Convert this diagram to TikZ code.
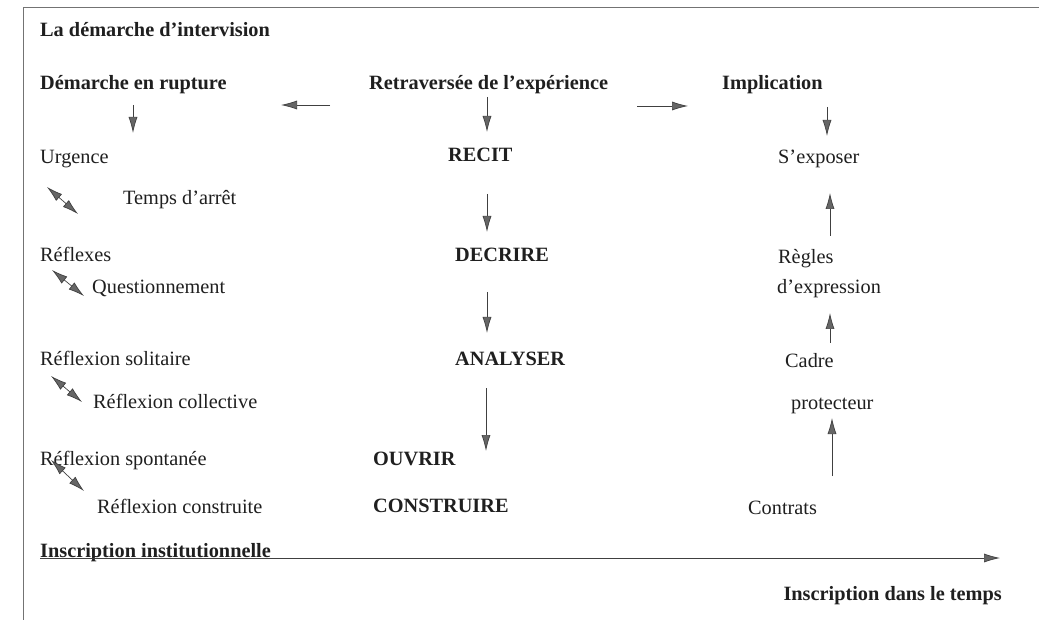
\documentclass[tikz,border=0pt]{standalone}
\usepackage{fontspec}
\setmainfont{Liberation Serif}
\usetikzlibrary{arrows.meta}
\tikzset{
  tipA/.tip={Latex[length=16pt,width=9pt,fill=black!60,color=black!75]},
}
\begin{document}
\begin{tikzpicture}[x=1pt,y=-1pt,
  txt/.style={anchor=base west,inner sep=0pt,font=\fontsize{20.3}{22}\selectfont,text=black!88},
  btxt/.style={txt,font=\fontsize{20.3}{22}\selectfont\bfseries},
  arr/.style={draw=black!75,line width=0.7pt,-tipA},
  darr/.style={draw=black!75,line width=0.7pt,tipA-tipA},
  frame/.style={draw=black!55,line width=0.8pt}]
\useasboundingbox (0,0) rectangle (1039,620);
\fill[white] (0,0) rectangle (1039,620);
\draw[frame] (1039,7) -- (23,7) -- (23,620);

% titles
\node[btxt] (title) at (40,37) {La démarche d’intervision};
\node[btxt] (rupt) at (40,90) {Démarche en rupture};
\node[btxt] (retr) at (369,90) {Retraversée de l’expérience};
\node[btxt] (impl) at (722,90) {Implication};

% left column
\node[txt] (urg) at (40,164) {Urgence};
\node[txt] (temps) at (123,205) {Temps d’arrêt};
\node[txt] (refl) at (40,262) {Réflexes};
\node[txt] (quest) at (92,294) {Questionnement};
\node[txt] (sol) at (40,366) {Réflexion solitaire};
\node[txt] (coll) at (93,408) {Réflexion collective};
\node[txt] (spont) at (40,465) {Réflexion spontanée};
\node[txt] (constr) at (97,513) {Réflexion construite};

% centre column
\node[btxt] (recit) at (448,162) {RECIT};
\node[btxt] (decr) at (455,262) {DECRIRE};
\node[btxt] (anal) at (455,365) {ANALYSER};
\node[btxt] (ouvr) at (373,465) {OUVRIR};
\node[btxt] (const) at (373,512) {CONSTRUIRE};

% right column
\node[txt] (expo) at (778,164) {S’exposer};
\node[txt] (regl) at (778,264) {Règles};
\node[txt] (dexp) at (777,294) {d’expression};
\node[txt] (cadre) at (785,367) {Cadre};
\node[txt] (prot) at (791,409) {protecteur};
\node[txt] (contr) at (748,514) {Contrats};

% bottom
\node[btxt] (instit) at (40,557) {Inscription institutionnelle};
\node[btxt,anchor=base east] (tps) at (1002,600) {Inscription dans le temps};
\coordinate (ts) at (40,558);
\coordinate (tl) at (1000,558);
\draw[arr] (ts) -- (tl);

% coordinates for connectors
\coordinate (h1s) at (330,105); \coordinate (h1e) at (281,105);
\coordinate (h2s) at (637,106); \coordinate (h2e) at (688,106);
\coordinate (r0s) at (133,105); \coordinate (r0e) at (133,133);
\coordinate (c0s) at (487,97);  \coordinate (c0e) at (487,132);
\coordinate (c1s) at (487,194); \coordinate (c1e) at (487,232);
\coordinate (c2s) at (487,292); \coordinate (c2e) at (487,333);
\coordinate (c3s) at (486,388); \coordinate (c3e) at (486,451);
\coordinate (i0s) at (827,107); \coordinate (i0e) at (827,136);
\coordinate (u1s) at (830,236); \coordinate (u1e) at (830,193);
\coordinate (u2s) at (830,343); \coordinate (u2e) at (830,313);
\coordinate (u3s) at (832,476); \coordinate (u3e) at (832,418);
\coordinate (d1a) at (47,187);  \coordinate (d1b) at (78,214);
\coordinate (d2a) at (52,270);  \coordinate (d2b) at (84,296);
\coordinate (d3a) at (51,376);  \coordinate (d3b) at (82,402);
\coordinate (d4a) at (51,460);  \coordinate (d4b) at (84,491);

\draw[arr] (h1s) -- (h1e);
\draw[arr] (h2s) -- (h2e);
\draw[arr] (r0s) -- (r0e);
\draw[arr] (c0s) -- (c0e);
\draw[arr] (c1s) -- (c1e);
\draw[arr] (c2s) -- (c2e);
\draw[arr] (c3s) -- (c3e);
\draw[arr] (i0s) -- (i0e);
\draw[arr] (u1s) -- (u1e);
\draw[arr] (u2s) -- (u2e);
\draw[arr] (u3s) -- (u3e);
\draw[darr] (d1a) -- (d1b);
\draw[darr] (d2a) -- (d2b);
\draw[darr] (d3a) -- (d3b);
\draw[darr] (d4a) -- (d4b);
\end{tikzpicture}
\end{document}
